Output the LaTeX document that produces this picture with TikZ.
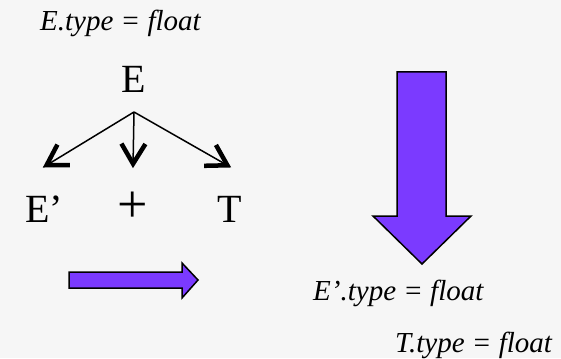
\documentclass[tikz,border=0pt]{standalone}
\usepackage{fontspec}
\setmainfont{Liberation Serif}
\usetikzlibrary{decorations.markings}
\definecolor{slidebg}{RGB}{246,246,246}
\definecolor{arrowfill}{RGB}{123,58,255}

\begin{document}
\begin{tikzpicture}[
x=1pt,y=-1pt,
sym/.style={anchor=base,inner sep=0pt,text height=28pt,text depth=0pt,font=\fontsize{40}{40}\selectfont},
attr/.style={anchor=base west,inner sep=0pt,font=\fontsize{29}{29}\selectfont\itshape},
branch/.style={line width=1.5pt,postaction={decorate},
  decoration={markings,mark=at position 1 with {\draw[line width=4.5pt,line join=miter] (-23pt,12pt) -- (-3pt,0pt) -- (-23pt,-12pt);}}},
block/.style={draw=black,line width=1.5pt,fill=arrowfill,line join=miter}
]
\fill[slidebg] (0,0) rectangle (561,358);
\useasboundingbox (0,0) rectangle (561,358);
\node[attr] (etype) at (40,31) {E.type = float};
\node[sym] (e) at (134,93) {E};
\node[sym] (ep) at (44,222) {E’};
\node[sym,font=\fontsize{54}{54}\selectfont] (plus) at (133,222) {+};
\node[sym] (t) at (230,222) {T};
\coordinate (fork) at ([yshift=-19pt]e.base);
\draw[branch] (fork) -- ([yshift=27pt]ep.north);
\draw[branch] (fork) -- ([yshift=27pt]plus.north);
\draw[branch] (fork) -- ([yshift=27pt]t.north);
% block arrows
\filldraw[block] (69,272) -- (182,272) -- (182,263) -- (198,280) -- (182,298) -- (182,288) -- (69,288) -- cycle;
\filldraw[block] (397,72) -- (446,72) -- (446,216) -- (471,216) -- (422,264) -- (373,216) -- (397,216) -- cycle;
\node[attr] (eptype) at (313,300) {E’.type = float};
\node[attr] (ttype) at (395,352) {T.type = float};
\end{tikzpicture}
\end{document}
